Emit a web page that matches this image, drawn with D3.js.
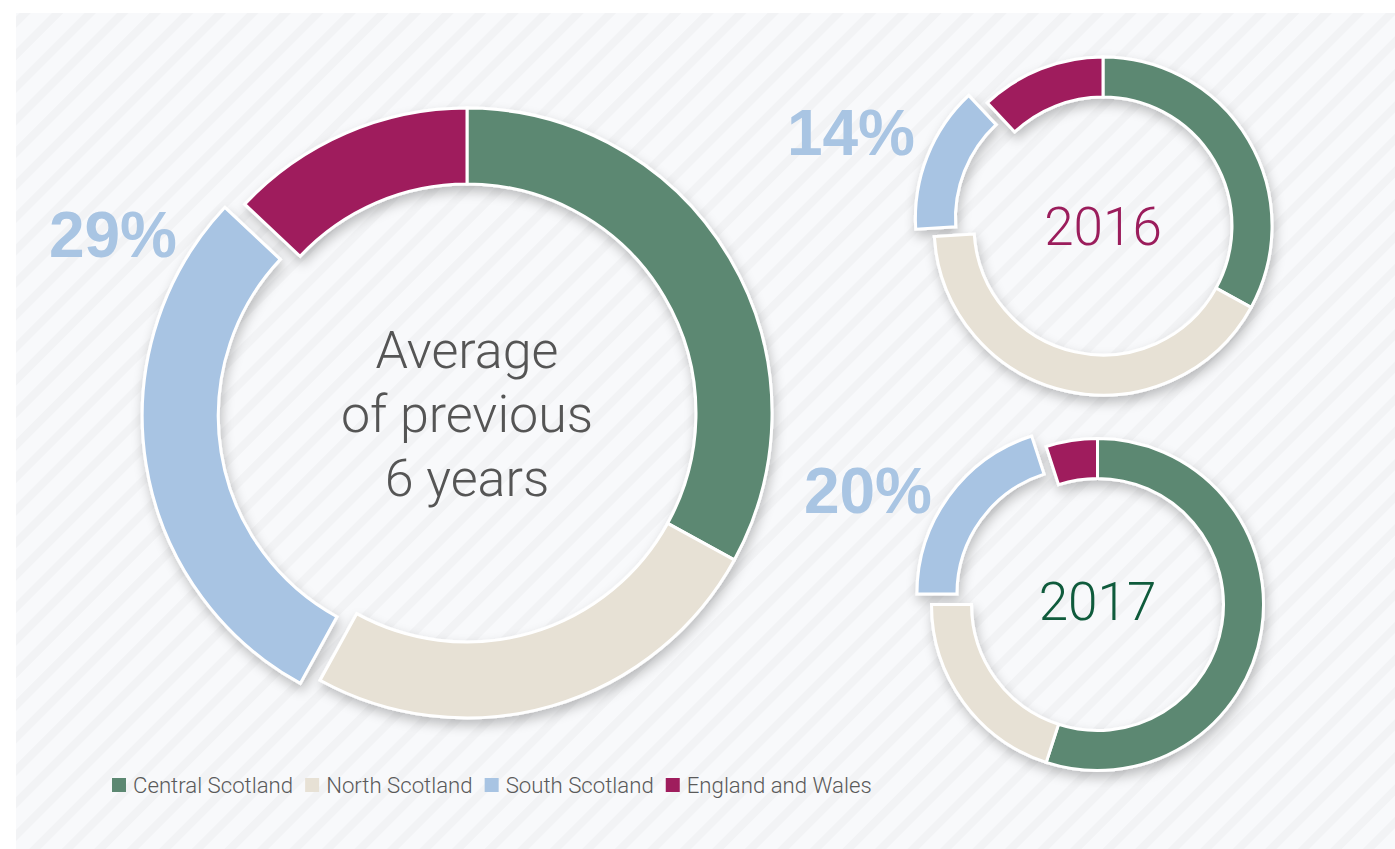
<!DOCTYPE html>
<html>
<head>
<meta charset="utf-8">
<script src="https://cdn.jsdelivr.net/npm/d3@7"></script>
<style>
  html, body { margin: 0; padding: 0; background: #ffffff; }
  svg { display: block; }
</style>
</head>
<body>
<svg id="chart" width="1395" height="849"></svg>
<script>
// Regions shown in every ring, in drawing order (clockwise from 12 o'clock)
const regions = ["Central Scotland", "North Scotland", "South Scotland", "England and Wales"];
const regionColors = ["#5c8872", "#e7e1d5", "#a8c4e3", "#9f1d5d"];

// Percentage share per region
const avgShares  = [33, 25, 29, 13];
const shares2016 = [33, 41, 14, 12];
const shares2017 = [55, 20, 20, 5];

// Text in the centre of each ring
const avgTitle  = ["Average", "of previous", "6 years"];
const title2016 = ["2016"];
const title2017 = ["2017"];

// The region pulled out of each ring and called out with its share
const highlightRegion = "South Scotland";

const svg = d3.select("#chart");
const defs = svg.append("defs");

// Diagonal striped backdrop
const pat = defs.append("pattern")
  .attr("id", "stripes")
  .attr("patternUnits", "userSpaceOnUse")
  .attr("width", 23).attr("height", 23)
  .attr("patternTransform", "rotate(45)");
pat.append("rect").attr("width", 23).attr("height", 23).attr("fill", "#f8f9fb");
pat.append("rect").attr("width", 8).attr("height", 23).attr("fill", "#f2f3f5");

// Soft shadow under the ring segments
const shadow = defs.append("filter")
  .attr("id", "ringShadow")
  .attr("x", "-20%").attr("y", "-20%").attr("width", "140%").attr("height", "140%");
shadow.append("feDropShadow")
  .attr("dx", 2).attr("dy", 6).attr("stdDeviation", 6)
  .attr("flood-color", "#000").attr("flood-opacity", 0.24);

svg.append("rect")
  .attr("x", 16).attr("y", 13)
  .attr("width", 1395 - 16).attr("height", 849 - 13)
  .attr("fill", "url(#stripes)");

const charts = [
  { shares: avgShares,  title: avgTitle,  cx: 467,    cy: 413,   rOut: 305, rIn: 229, explode: 20,
    titleSize: 52, lineHeight: 64, titleColor: "#555555", titleShift: 0,
    labelDx: -290, labelDy: -156 },
  { shares: shares2016, title: title2016, cx: 1103,   cy: 226,   rOut: 169, rIn: 129, explode: 20,
    titleSize: 53, lineHeight: 60, titleColor: "#9b1d5c", titleShift: 0,
    labelDx: -188, labelDy: -71 },
  { shares: shares2017, title: title2017, cx: 1097.5, cy: 604.5, rOut: 166, rIn: 126, explode: 18,
    titleSize: 53, lineHeight: 60, titleColor: "#0f5b3c", titleShift: -4,
    labelDx: -165.5, labelDy: -91.5 }
];

const color = d3.scaleOrdinal().domain(regions).range(regionColors);
const pie = d3.pie().sort(null).value(d => d.value);
const hi = regions.indexOf(highlightRegion);

charts.forEach(c => {
  const data = regions.map((r, i) => ({ region: r, value: c.shares[i] }));
  const arcs = pie(data);
  const arc = d3.arc().innerRadius(c.rIn).outerRadius(c.rOut);

  const g = svg.append("g").attr("transform", `translate(${c.cx},${c.cy})`);

  g.append("g")
    .attr("filter", "url(#ringShadow)")
    .selectAll("path")
    .data(arcs)
    .join("path")
      .attr("d", arc)
      .attr("transform", d => {
        if (d.data.region !== highlightRegion) return null;
        const mid = (d.startAngle + d.endAngle) / 2;
        return `translate(${Math.sin(mid) * c.explode},${-Math.cos(mid) * c.explode})`;
      })
      .attr("fill", d => color(d.data.region))
      .attr("stroke", "#ffffff")
      .attr("stroke-width", 3)
      .attr("stroke-linejoin", "miter");

  // Centre title
  const n = c.title.length;
  g.append("g").selectAll("text")
    .data(c.title)
    .join("text")
      .attr("x", 0)
      .attr("y", (d, i) => (i - (n - 1) / 2) * c.lineHeight + c.titleSize * 0.36 + c.titleShift)
      .attr("text-anchor", "middle")
      .attr("font-family", "Roboto, 'Helvetica Neue', 'Liberation Sans', sans-serif")
      .attr("font-weight", 300)
      .attr("font-size", c.titleSize)
      .attr("fill", c.titleColor)
      .text(d => d);

  // Share of the highlighted region
  g.append("text")
    .attr("x", c.labelDx)
    .attr("y", c.labelDy)
    .attr("text-anchor", "end")
    .attr("font-family", "'Liberation Sans', Arial, 'Helvetica Neue', sans-serif")
    .attr("font-weight", 700)
    .attr("font-size", 64)
    .attr("fill", "#a9c5e3")
    .text(`${c.shares[hi]}%`);
});

// Legend
const legend = svg.append("g").attr("transform", "translate(112,793)");
let lx = 0;
regions.forEach(r => {
  legend.append("rect")
    .attr("x", lx).attr("y", -15)
    .attr("width", 14).attr("height", 14)
    .attr("fill", color(r));
  const t = legend.append("text")
    .attr("x", lx + 21).attr("y", 0)
    .attr("font-family", "Roboto, 'Helvetica Neue', 'Liberation Sans', sans-serif")
    .attr("font-weight", 300)
    .attr("font-size", 22.2)
    .attr("fill", "#5a5a5a")
    .text(r);
  lx += 21 + t.node().getComputedTextLength() + 12;
});
</script>
</body>
</html>
